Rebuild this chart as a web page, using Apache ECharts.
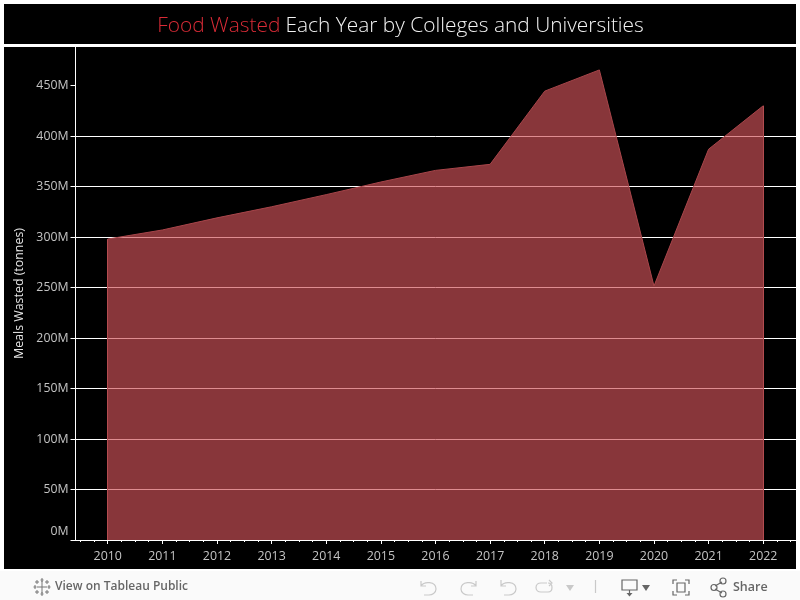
<!DOCTYPE html>
<html>
<head>
<meta charset="utf-8">
<style>html,body{margin:0;padding:0;background:#fff}#main{width:800px;height:600px}</style>
<script src="https://cdn.jsdelivr.net/npm/echarts@6/dist/echarts.min.js"></script>
</head>
<body>
<div id="main"></div>
<script>
var years = [2010,2011,2012,2013,2014,2015,2016,2017,2018,2019,2020,2021,2022];
var meals = [298,307,319,330,342,354.5,366,372,444.5,465.5,251.5,387,430];
var yTicks = [0,50,100,150,200,250,300,350,400,450];
var minorTicks = [2009.5,2009.75,2010.25,2010.5,2010.75,2011.25,2011.5,2011.75,2012.25,2012.5,2012.75,
  2013.25,2013.5,2013.75,2014.25,2014.5,2014.75,2015.25,2015.5,2015.75,2016.25,2016.5,2016.75,
  2017.25,2017.5,2017.75,2018.25,2018.5,2018.75,2019.25,2019.5,2019.75,2020.25,2020.5,2020.75,
  2021.25,2021.5,2021.75,2022.25,2022.5];

var font = '"Open Sans", sans-serif';
var seriesData = [];
for (var x = 0; x < years.length; x++) {
  seriesData.push([years[x], meals[x]]);
}

var icoOff = '#c9c9c9', icoOn = '#666666';
var icoCount = 0;
function pathEl(d, style) {
  var name = 'toolbarIcon' + (icoCount++);
  echarts.graphic.registerShape(name, echarts.graphic.extendPath(d));
  return {type:name, silent:true, z:10, style:style};
}
function icon(d, color, width) {
  return pathEl(d, {fill:'none', stroke:color, lineWidth:width || 1.2});
}
function solid(d, color) {
  return pathEl(d, {fill:color, stroke:'none'});
}

var chart = echarts.init(document.getElementById('main'), null, {renderer:'canvas'});
chart.setOption({
  animation: false,
  backgroundColor: '#ffffff',
  title: {
    text: '{a|Food Wasted} {b|Each Year by Colleges and Universities}',
    left: 395.5, top: 11, textAlign: 'center',
    textStyle: {
      rich: {
        a: {color:'#d92b36', fontFamily:font, fontWeight:300, fontSize:20.9},
        b: {color:'#f2f2f2', fontFamily:font, fontWeight:300, fontSize:20.9}
      }
    },
    z: 12
  },
  graphic: [
    {type:'rect', shape:{x:4,y:4,width:792,height:40}, style:{fill:'#000'}, z:-10, silent:true},
    {type:'rect', shape:{x:4,y:47,width:792,height:522}, style:{fill:'#000'}, z:-10, silent:true},
    {type:'rect', shape:{x:0,y:571,width:800,height:29}, style:{fill:'#fafafa'}, z:-10, silent:true},
    {type:'text', x:55, y:581, silent:true, z:10,
      style:{text:'View on Tableau Public', fill:'#666', font:'600 12px '+font}},
    {type:'text', x:733, y:581, silent:true, z:10,
      style:{text:'Share', fill:'#666', font:'600 12.5px '+font}},
    // tableau logo
    icon('M42 581V593M37 587H47M42 578V582M40.5 580H43.5M42 592V596M40.5 594H43.5M35 585V589M33.5 587H36.5M49 585V589M47.5 587H50.5M37 580V584M35 582H39M47 580V584M45 582H49M37 590V594M35 592H39M47 590V594M45 592H49', '#777777', 1),
    // undo, redo, revert, refresh
    icon('M421 581V586H426M421 586C424 581 436 581 436 589C436 593 432 595 429 595H424', icoOff),
    icon('M476 581V586H471M476 586C473 581 461 581 461 589C461 593 465 595 468 595H473', icoOff),
    icon('M501 580V586H506M501 586C504 581 516 581 516 589C516 593 512 595 509 595H504', icoOff),
    icon('M547 583H541C538 583 536 585 536 587.5C536 590 538 592 541 592H548C551 592 552 590 552 587.5C552 585 551 583 548 583M549 580L552 583L549 586', icoOff),
    solid('M566 585H574L570 591Z', icoOff),
    icon('M595.5 580V593', icoOff),
    // download
    icon('M622 580H637V590H622ZM629.5 590V595', icoOn),
    solid('M626.5 593H632.5L629.5 596.5Z', icoOn),
    solid('M642 585H650L646 591Z', icoOn),
    // fullscreen
    icon('M673 584V580H677M685 580H689V584M689 591V595H685M677 595H673V591M677 583H685V592H677Z', icoOn),
    // share
    icon('M715 586L722 582M715 589L722 593', icoOn),
    {type:'circle', shape:{cx:714,cy:587.5,r:3}, style:{fill:'none',stroke:icoOn,lineWidth:1.2}, silent:true, z:10},
    {type:'circle', shape:{cx:723,cy:581,r:3}, style:{fill:'none',stroke:icoOn,lineWidth:1.2}, silent:true, z:10},
    {type:'circle', shape:{cx:723,cy:594,r:3}, style:{fill:'none',stroke:icoOn,lineWidth:1.2}, silent:true, z:10}
  ],
  grid: {left:75.5, right:4, top:47, bottom:60, containLabel:false},
  xAxis: [{
    type: 'value',
    min: 2009.41,
    max: 2022.6,
    axisLine: {show:true, onZero:false, lineStyle:{color:'#ffffff', width:1}},
    axisTick: {show:true, length:4, customValues:years, lineStyle:{color:'#ffffff'}},
    axisLabel: {
      customValues: years,
      margin: 10,
      color: '#c4c4c4',
      fontFamily: font,
      fontSize: 12.4,
      formatter: function (v) { return String(Math.round(v)); }
    },
    splitLine: {show:false}
  }, {
    type: 'value',
    min: 2009.41,
    max: 2022.6,
    position: 'bottom',
    axisLine: {show:false},
    axisTick: {show:true, length:2, customValues:minorTicks, lineStyle:{color:'#ffffff'}},
    axisLabel: {show:false},
    splitLine: {show:false}
  }],
  yAxis: [{
    type: 'value',
    min: 0,
    max: 488.2,
    interval: 50,
    name: 'Meals Wasted (tonnes)',
    nameLocation: 'middle',
    nameGap: 46,
    nameRotate: 90,
    nameTextStyle: {color:'#e6e6e6', fontFamily:font, fontSize:12.4},
    axisLine: {show:true, lineStyle:{color:'#ffffff', width:1}},
    axisTick: {show:true, length:5, customValues:yTicks, lineStyle:{color:'#ffffff'}},
    axisLabel: {
      customValues: yTicks,
      margin: 7,
      color: '#c4c4c4',
      fontFamily: font,
      fontSize: 12.3,
      lineHeight: 17,
      verticalAlignMinLabel: 'bottom',
      formatter: function (v) { return v + 'M'; }
    },
    splitLine: {show:true, showMaxLine:false, lineStyle:{color:'#ffffff', width:1}}
  }],
  series: [{
    type: 'line',
    data: seriesData,
    symbol: 'none',
    lineStyle: {color:'#a8454a', width:1},
    areaStyle: {color:'rgb(207,82,88)', opacity:0.66, origin:'start'},
    markLine: {
      silent: true,
      symbol: 'none',
      label: {show:false},
      lineStyle: {color:'#b34c50', width:1, type:'solid'},
      data: [
        [{coord:[years[0],0]},{coord:[years[0],meals[0]]}],
        [{coord:[years[12],0]},{coord:[years[12],meals[12]]}]
      ]
    }
  }]
});
</script>
</body>
</html>
